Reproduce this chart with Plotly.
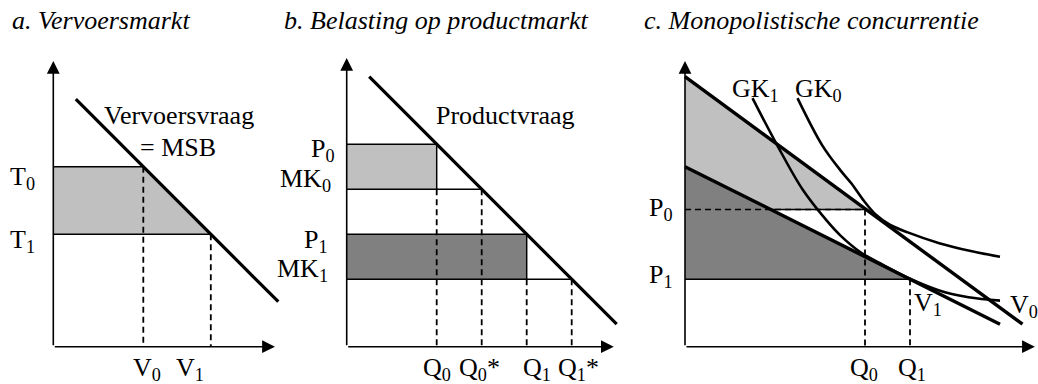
import plotly.graph_objects as go

# ---------------- data ----------------
# a. Vervoersmarkt
a_demand_q = [1, 10]
a_demand_p = [11, 2]
a_T = [8, 5]          # T0, T1
a_V = [4, 7]          # V0, V1

# b. Belasting op productmarkt
b_demand_q = [1, 12]
b_demand_p = [12, 1]
b_P = [9, 5]          # P0, P1
b_MK = [7, 3]         # MK0, MK1
b_Q = [4, 8]          # Q0, Q1
b_Qstar = [6, 10]     # Q0*, Q1*

# c. Monopolistische concurrentie
c_v0_q = [0, 15]
c_v0_p = [12, 1.0]
c_v1_q = [0, 14]
c_v1_p = [8, 1.0]
c_P = [6.1, 3.0]      # P0, P1
c_Q = [8.0, 10.0]     # Q0, Q1
gk0_q = [5.0, 6.1, 6.9, 7.4, 7.9, 8.5, 9.1, 9.9, 11.3, 12.7, 14.0]
gk0_p = [11.05, 8.95, 7.85, 7.25, 6.55, 5.85, 5.42, 5.08, 4.6, 4.25, 4.0]
gk1_q = [3.0, 4.1, 5.25, 6.3, 6.9, 7.8, 8.8, 10.0, 11.3, 12.6, 14.0]
gk1_p = [11.05, 8.95, 6.95, 5.6, 4.95, 4.2, 3.64, 3.02, 2.5, 2.2, 2.05]

# ---------------- layout constants ----------------
W, H = 1038, 384
U = 22.5                       # pixels per unit
OY = 346.7                     # pixel row of all x-axes
ORIG = {"x": 53.3, "x2": 346.7, "x3": 685.0}
DOM = {"x": (0.0, 0.30), "x2": (0.30, 0.61), "x3": (0.61, 1.0)}

LIGHT = "#c0c0c0"
DARK = "#808080"
FONT = "Liberation Serif"
FS = 26
BOTTOM = -1.0                  # row of the quantity labels

fig = go.Figure()


def poly(xs, ys, xa, color):
    fig.add_trace(go.Scatter(x=xs + [xs[0]], y=ys + [ys[0]], xaxis=xa, yaxis="y",
                             mode="lines", fill="toself", fillcolor=color,
                             line=dict(width=0, color=color), hoverinfo="skip",
                             showlegend=False))


def seg(xs, ys, xa, width=1.5, dash=None, shape="linear"):
    fig.add_trace(go.Scatter(x=xs, y=ys, xaxis=xa, yaxis="y", mode="lines",
                             line=dict(width=width, color="black",
                                       dash=dash if dash else "solid", shape=shape,
                                       smoothing=1.0),
                             hoverinfo="skip", showlegend=False))


DASH = "6px,4px"

# ---------- panel a ----------
T0, T1 = a_T
V0, V1 = a_V
poly([0, V0, V1, 0], [T0, T0, T1, T1], "x", LIGHT)
seg([0, V0], [T0, T0], "x")
seg([0, V1], [T1, T1], "x")
seg([V0, V0], [T0, 0], "x", 1.8, DASH)
seg([V1, V1], [T1, 0], "x", 1.8, DASH)
seg(a_demand_q, a_demand_p, "x", 3.2)

# ---------- panel b ----------
P0, P1 = b_P
MK0, MK1 = b_MK
Q0, Q1 = b_Q
Q0s, Q1s = b_Qstar
poly([0, Q0, Q0, 0], [P0, P0, MK0, MK0], "x2", LIGHT)
poly([0, Q1, Q1, 0], [P1, P1, MK1, MK1], "x2", DARK)
seg([0, Q0, Q0], [P0, P0, MK0], "x2")
seg([0, Q0s], [MK0, MK0], "x2")
seg([0, Q1, Q1], [P1, P1, MK1], "x2")
seg([0, Q1s], [MK1, MK1], "x2")
for q, p in [(Q0, MK0), (Q0s, MK0), (Q1, MK1), (Q1s, MK1)]:
    seg([q, q], [p, 0], "x2", 1.8, DASH)
seg(b_demand_q, b_demand_p, "x2", 3.2)

# ---------- panel c ----------
cP0, cP1 = c_P
cQ0, cQ1 = c_Q
poly([0, cQ0, 0], [c_v0_p[0], cP0, cP0], "x3", LIGHT)
poly([0, cQ1, 0], [c_v1_p[0], cP1, cP1], "x3", DARK)
# where V1 crosses the P0 level
cross = c_v1_q[0] + (cP0 - c_v1_p[0]) * (c_v1_q[1] - c_v1_q[0]) / (c_v1_p[1] - c_v1_p[0])
seg([0, cQ0], [cP0, cP0], "x3", 1.5, DASH)
seg([cross, cQ0], [cP0, cP0], "x3", 1.5)
seg([0, cQ1], [cP1, cP1], "x3", 1.5)
seg([cQ0, cQ0], [cP0, 0], "x3", 1.8, DASH)
seg([cQ1, cQ1], [cP1, 0], "x3", 1.8, DASH)
seg(c_v0_q, c_v0_p, "x3", 3.4)
seg(c_v1_q, c_v1_p, "x3", 3.4)
seg(gk0_q, gk0_p, "x3", 2.6, shape="spline")
seg(gk1_q, gk1_p, "x3", 2.6, shape="spline")

# ---------- axes (drawn as arrows) ----------
ann = []
axis_tips = {"x": (9.85, 12.7), "x2": (11.87, 12.83), "x3": (15.55, 12.7)}
for xa, (tx, ty) in axis_tips.items():
    for hx, hy in [(tx, 0), (0, ty)]:
        ann.append(dict(x=hx, y=hy, ax=0, ay=0, xref=xa, yref="y", axref=xa, ayref="y",
                        text="", showarrow=True, arrowhead=2, arrowsize=1.6,
                        arrowwidth=1.6, arrowcolor="black", standoff=0))


def lab(xa, x, y, text, anchor="center", size=FS):
    ann.append(dict(x=x, y=y, xref=xa, yref="y", text=text, showarrow=False,
                    xanchor=anchor, yanchor="middle",
                    font=dict(family=FONT, size=size, color="black")))


# panel a labels
lab("x", -2.01, 7.48, "T<sub>0</sub>", "left")
lab("x", -2.01, 4.71, "T<sub>1</sub>", "left")
lab("x", 5.59, 10.28, "Vervoersvraag")
lab("x", 5.54, 8.85, "= MSB")
lab("x", 4.16, BOTTOM, "V<sub>0</sub>")
lab("x", 6.08, BOTTOM, "V<sub>1</sub>")

# panel b labels
lab("x2", -0.43, 8.74, "P<sub>0</sub>", "right")
lab("x2", -0.61, 7.39, "MK<sub>0</sub>", "right")
lab("x2", -0.75, 4.72, "P<sub>1</sub>", "right")
lab("x2", -0.74, 3.39, "MK<sub>1</sub>", "right")
lab("x2", 7.04, 10.28, "Productvraag")
lab("x2", 4.0, BOTTOM, "Q<sub>0</sub>")
lab("x2", 5.88, BOTTOM, "Q<sub>0</sub>*")
lab("x2", 8.46, BOTTOM, "Q<sub>1</sub>")
lab("x2", 10.28, BOTTOM, "Q<sub>1</sub>*")

# panel c labels
lab("x3", -1.69, 6.14, "P<sub>0</sub>", "left")
lab("x3", -1.69, 3.14, "P<sub>1</sub>", "left")
lab("x3", 7.96, BOTTOM, "Q<sub>0</sub>")
lab("x3", 10.09, BOTTOM, "Q<sub>1</sub>")
lab("x3", 2.0, 11.43, "GK<sub>1</sub>", "left")
lab("x3", 4.8, 11.43, "GK<sub>0</sub>", "left")
lab("x3", 10.09, 1.9, "V<sub>1</sub>", "left")
lab("x3", 14.36, 1.81, "V<sub>0</sub>", "left")

# titles
for px, t in [(10, "a. Vervoersmarkt"), (282, "b. Belasting op productmarkt"),
              (642, "c. Monopolistische concurrentie")]:
    ann.append(dict(x=px / W, y=1 - 20.5 / H, xref="paper", yref="paper", text="<i>" + t + "</i>",
                    showarrow=False, xanchor="left", yanchor="middle",
                    font=dict(family=FONT, size=FS, color="black")))

axis_common = dict(showgrid=False, zeroline=False, showticklabels=False, showline=False,
                   ticks="", fixedrange=True)
layout_axes = {}
for xa, name in [("x", "xaxis"), ("x2", "xaxis2"), ("x3", "xaxis3")]:
    d0, d1 = DOM[xa]
    o = ORIG[xa]
    layout_axes[name] = dict(domain=[d0, d1], range=[(d0 * W - o) / U, (d1 * W - o) / U],
                             anchor="y", **axis_common)
layout_axes["yaxis"] = dict(domain=[0, 1], range=[-(H - OY) / U, OY / U], anchor="x",
                            **axis_common)

fig.update_layout(width=W, height=H, margin=dict(l=0, r=0, t=0, b=0),
                  paper_bgcolor="white", plot_bgcolor="white",
                  annotations=ann, showlegend=False, **layout_axes)

fig.write_html("out.html", config={"displayModeBar": False},
               post_script="document.body.style.margin='0px';"
                           "document.body.style.padding='0px';"
                           "document.body.style.overflow='hidden';")
